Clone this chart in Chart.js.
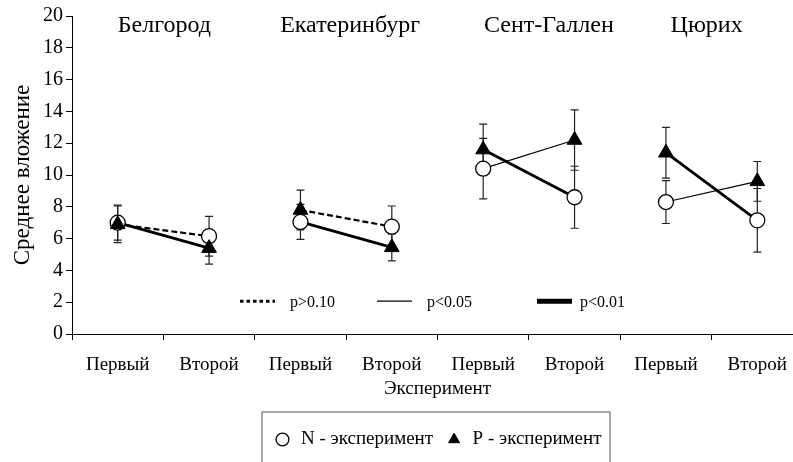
<!DOCTYPE html>
<html>
<head>
<meta charset="utf-8">
<script src="https://cdn.jsdelivr.net/npm/chart.js@4.4.1/dist/chart.umd.min.js"></script>
<style>
  html, body { margin: 0; padding: 0; background: #fff; }
  #wrap { width: 793px; height: 462px; overflow: hidden; }
</style>
</head>
<body>
<div id="wrap"><canvas id="chart" width="815" height="462"></canvas></div>
<script>
const cities = ["Белгород", "Екатеринбург", "Сент-Галлен", "Цюрих"];
const rounds = ["Первый", "Второй"];
const xLabels = cities.flatMap(() => rounds);

// means and half-widths of the error bars, per city: first, second
const nMean = [7.0, 6.15, 7.05, 6.75, 10.4, 8.6, 8.3, 7.15];
const nErr  = [1.1, 1.25, 1.1, 1.3, 1.9, 1.95, 1.35, 2.0];
const pMean = [6.9, 5.4, 7.8, 5.45, 11.6, 12.2, 11.4, 9.6];
const pErr  = [1.15, 1.0, 1.25, 0.85, 1.6, 1.9, 1.6, 1.25];

// line styles per city: A joins P(first)->N(second), B joins N(first)->P(second)
const styleA = ["dashed", "dashed", "thick", "thick"];
const styleB = ["thick", "thick", "thin", "thin"];

const sigLegend = [
  { style: "dashed", text: "p>0.10" },
  { style: "thin", text: "p<0.05" },
  { style: "thick", text: "p<0.01" },
];

const serif = "'Liberation Serif', 'Times New Roman', serif";
Chart.defaults.font.family = serif;
Chart.defaults.color = "#000";

const lineStyles = {
  dashed: { borderWidth: 2.2, borderDash: [6, 3] },
  thin: { borderWidth: 1.2, borderDash: [] },
  thick: { borderWidth: 2.8, borderDash: [] },
};

function pairData(i, first, second) {
  const d = xLabels.map(() => null);
  d[2 * i] = first[2 * i];
  d[2 * i + 1] = second[2 * i + 1];
  return d;
}

const lineSets = [];
cities.forEach((c, i) => {
  lineSets.push({ label: c + " A", data: pairData(i, pMean, nMean), ...lineStyles[styleA[i]] });
  lineSets.push({ label: c + " B", data: pairData(i, nMean, pMean), ...lineStyles[styleB[i]] });
});
lineSets.forEach(ds => Object.assign(ds, {
  borderColor: "#000", pointRadius: 0, spanGaps: false, order: 1, fill: false,
}));

const errorBars = {
  id: "errorBars",
  beforeDatasetsDraw(chart) {
    const { ctx, scales: { x, y } } = chart;
    ctx.save();
    ctx.strokeStyle = "#222";
    ctx.lineWidth = 1.2;
    [[nMean, nErr], [pMean, pErr]].forEach(([m, e]) => {
      m.forEach((v, i) => {
        const px = x.getPixelForValue(i);
        const top = y.getPixelForValue(v + e[i]);
        const bot = y.getPixelForValue(v - e[i]);
        ctx.beginPath();
        ctx.moveTo(px, top); ctx.lineTo(px, bot);
        ctx.moveTo(px - 4, top); ctx.lineTo(px + 4, top);
        ctx.moveTo(px - 4, bot); ctx.lineTo(px + 4, bot);
        ctx.stroke();
      });
    });
    ctx.restore();
  },
};

const annotations = {
  id: "annotations",
  afterDraw(chart) {
    const { ctx, chartArea, scales: { x, y } } = chart;
    ctx.save();
    // city names (nudged the way the original places them)
    const nudge = [1, 4, 20, -5];
    ctx.font = "24px " + serif;
    ctx.fillStyle = "#000";
    ctx.textAlign = "center";
    ctx.textBaseline = "middle";
    cities.forEach((c, i) => {
      const cx = (x.getPixelForValue(2 * i) + x.getPixelForValue(2 * i + 1)) / 2;
      ctx.fillText(c, cx + nudge[i], chartArea.top + 10);
    });
    // significance key
    const ky = y.getPixelForValue(2);
    const keyX = [168, 305, 465];
    ctx.font = "16px " + serif;
    ctx.textAlign = "left";
    sigLegend.forEach((s, i) => {
      const x0 = chartArea.left + keyX[i];
      ctx.beginPath();
      ctx.strokeStyle = "#000";
      if (s.style === "dashed") { ctx.lineWidth = 3; ctx.setLineDash([3.5, 3]); }
      else if (s.style === "thin") { ctx.lineWidth = 1.2; ctx.setLineDash([]); }
      else { ctx.lineWidth = 5; ctx.setLineDash([]); }
      ctx.moveTo(x0, ky - 1); ctx.lineTo(x0 + 35, ky - 1);
      ctx.stroke();
      ctx.fillText(s.text, x0 + (s.style === "thick" ? 43 : 50), ky + 1);
    });
    ctx.setLineDash([]);
    // box round the marker legend
    const boxes = chart.legend.legendHitBoxes;
    if (boxes.length) {
      const l = Math.min(...boxes.map(b => b.left)) - 12;
      const r = Math.max(...boxes.map(b => b.left + b.width)) + 8;
      const t = boxes[0].top + boxes[0].height / 2 - 28;
      ctx.strokeStyle = "#555";
      ctx.lineWidth = 1;
      ctx.strokeRect(l + 0.5, t + 0.5, r - l, chart.height);
    }
    ctx.restore();
  },
};

new Chart(document.getElementById("chart"), {
  type: "line",
  data: {
    labels: xLabels,
    datasets: [
      {
        label: "P - эксперимент", data: pMean, showLine: false,
        pointStyle: "triangle", pointRadius: 8.5, pointHoverRadius: 8.5,
        backgroundColor: "#000", borderColor: "#000", borderWidth: 1, order: 0,
      },
      {
        label: "N - эксперимент", data: nMean, showLine: false,
        pointStyle: "circle", pointRadius: 7.5, pointHoverRadius: 7.5,
        backgroundColor: "#fff", borderColor: "#000", borderWidth: 1.3, order: 0,
      },
      ...lineSets,
    ],
  },
  options: {
    responsive: false,
    animation: false,
    layout: { padding: { left: 0, right: 12, top: 16, bottom: 3 } },
    plugins: {
      tooltip: { enabled: false },
      legend: {
        position: "bottom",
        fullSize: false,
        labels: {
          usePointStyle: true,
          boxWidth: 18,
          boxHeight: 9,
          padding: 12,
          font: { size: 19 },
          color: "#000",
          filter: item => item.datasetIndex < 2,
          sort: (a, b) => b.datasetIndex - a.datasetIndex,
        },
      },
    },
    scales: {
      x: {
        type: "category",
        offset: true,
        grid: { offset: true, drawOnChartArea: false, tickLength: 6, color: "#000" },
        border: { color: "#000", width: 1 },
        ticks: { color: "#000", font: { size: 19 }, padding: 14, maxRotation: 0, autoSkip: false },
        title: { display: true, text: "Эксперимент", color: "#000", font: { size: 19 }, padding: { top: 2, bottom: 18 } },
        afterFit(s) { s.height = 84; },
      },
      y: {
        min: 0, max: 20,
        ticks: { stepSize: 2, color: "#000", font: { size: 20 }, padding: 3 },
        grid: { drawOnChartArea: false, tickLength: 6, color: "#000" },
        border: { color: "#000", width: 1 },
        title: { display: true, text: "Среднее вложение", color: "#000", font: { size: 23 }, padding: { top: 9, bottom: 0 } },
        afterFit(s) { s.width = 72; },
      },
    },
  },
  plugins: [errorBars, annotations],
});
</script>
</body>
</html>
